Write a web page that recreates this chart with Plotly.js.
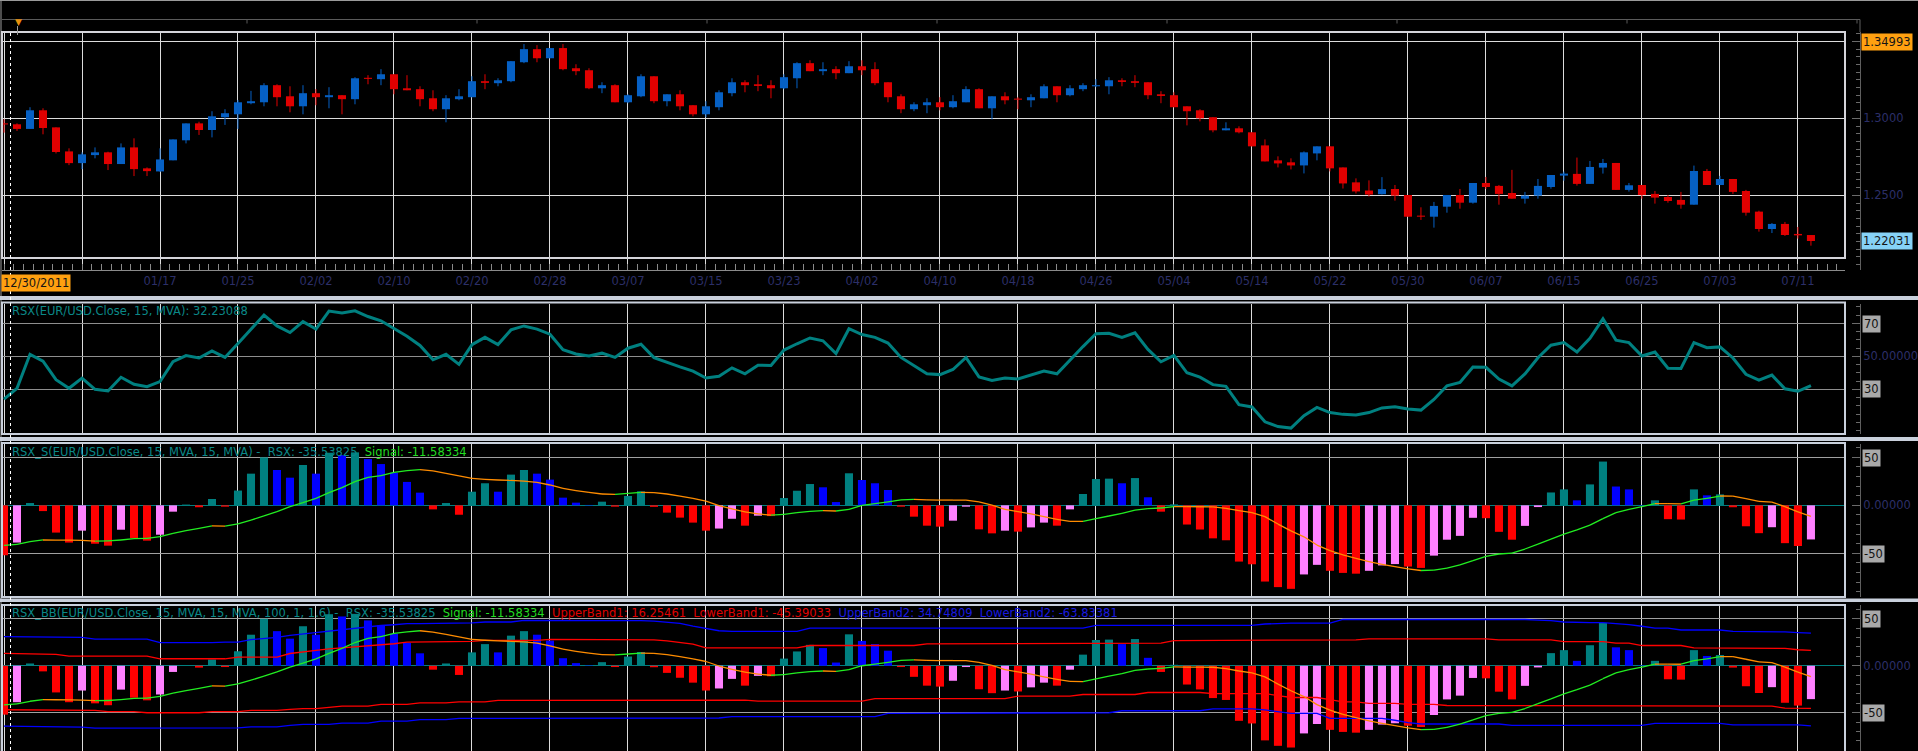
<!DOCTYPE html>
<html><head><meta charset="utf-8">
<script src="https://cdn.plot.ly/plotly-3.0.1.min.js"></script>
<style>html,body{margin:0;padding:0;background:#000;overflow:hidden}#chart{width:1918px;height:751px}</style>
</head><body><div id="chart"></div>
<script>
const W = 1918, H = 751;

// ---------- DATA (EUR/USD daily, 12/30/2011 .. 07/12/2012) ----------
const openP = [
1.2963,1.2961,1.2931,1.3052,1.2941,1.2785,1.2709,1.2761,1.2779,1.2703,
1.2811,1.2675,1.2655,1.2727,1.2857,1.2967,1.2924,1.3007,1.3026,1.3098,
1.3104,1.3215,1.3143,1.3078,1.3163,1.3137,1.3150,1.3124,1.3262,1.3254,
1.3286,1.3195,1.3189,1.3130,1.3059,1.3124,1.3137,1.3241,1.3228,1.3241,
1.3364,1.3449,1.3390,1.3456,1.3325,1.3312,1.3195,1.3215,1.3104,1.3143,
1.3273,1.3111,1.3156,1.3085,1.3026,1.3072,1.3163,1.3234,1.3221,1.3215,
1.3195,1.3260,1.3358,1.3306,1.3319,1.3293,1.3338,1.3319,1.3234,1.3143,
1.3059,1.3085,1.3104,1.3072,1.3104,1.3189,1.3065,1.3143,1.3126,1.3117,
1.3130,1.3208,1.3150,1.3189,1.3208,1.3208,1.3247,1.3241,1.3234,1.3156,
1.3150,1.3078,1.3052,1.3007,1.2922,1.2935,1.2909,1.2824,1.2727,1.2714,
1.2694,1.2772,1.2818,1.2681,1.2584,1.2531,1.2507,1.2541,1.2502,1.2366,
1.2361,1.2426,1.2502,1.2452,1.2580,1.2561,1.2515,1.2478,1.2498,1.2554,
1.2628,1.2639,1.2574,1.2680,1.2710,1.2535,1.2567,1.2509,1.2489,1.2470,
1.2439,1.2658,1.2567,1.2606,1.2528,1.2394,1.2281,1.2314,1.2249,1.2242];
const highP = [
1.2993,1.2967,1.3072,1.3065,1.2941,1.2805,1.2779,1.2811,1.2783,1.2837,
1.2870,1.2681,1.2805,1.2863,1.2967,1.2978,1.3046,1.3059,1.3119,1.3178,
1.3228,1.3221,1.3208,1.3215,1.3189,1.3202,1.3150,1.3267,1.3280,1.3319,
1.3286,1.3280,1.3208,1.3182,1.3150,1.3189,1.3273,1.3286,1.3260,1.3371,
1.3482,1.3475,1.3456,1.3482,1.3351,1.3325,1.3234,1.3221,1.3156,1.3286,
1.3273,1.3156,1.3182,1.3085,1.3111,1.3182,1.3260,1.3247,1.3280,1.3247,
1.3286,1.3364,1.3377,1.3364,1.3338,1.3371,1.3377,1.3364,1.3234,1.3156,
1.3104,1.3130,1.3137,1.3150,1.3208,1.3195,1.3143,1.3169,1.3137,1.3156,
1.3221,1.3208,1.3215,1.3228,1.3254,1.3267,1.3260,1.3280,1.3234,1.3176,
1.3169,1.3078,1.3059,1.3007,1.2974,1.2948,1.2909,1.2863,1.2753,1.2740,
1.2785,1.2818,1.2818,1.2681,1.2610,1.2597,1.2618,1.2567,1.2502,1.2422,
1.2457,1.2502,1.2541,1.2580,1.2619,1.2567,1.2665,1.2522,1.2606,1.2632,
1.2654,1.2745,1.2723,1.2736,1.2710,1.2580,1.2567,1.2528,1.2502,1.2522,
1.2693,1.2671,1.2626,1.2606,1.2535,1.2400,1.2320,1.2327,1.2294,1.2242];
const lowP = [
1.2907,1.2918,1.2931,1.2896,1.2772,1.2696,1.2670,1.2740,1.2664,1.2703,
1.2625,1.2625,1.2653,1.2727,1.2837,1.2892,1.2876,1.2957,1.2931,1.3091,
1.3078,1.3078,1.3039,1.3026,1.3085,1.3065,1.3026,1.3091,1.3221,1.3215,
1.3156,1.3182,1.3078,1.3046,1.2974,1.3117,1.3137,1.3189,1.3208,1.3234,
1.3358,1.3364,1.3390,1.3312,1.3280,1.3189,1.3163,1.3104,1.3098,1.3137,
1.3098,1.3078,1.3052,1.3013,1.3007,1.3052,1.3143,1.3169,1.3176,1.3130,
1.3189,1.3195,1.3306,1.3280,1.3254,1.3293,1.3280,1.3215,1.3104,1.3033,
1.3046,1.3033,1.3052,1.3065,1.3104,1.3065,1.2993,1.3091,1.3059,1.3072,
1.3130,1.3104,1.3143,1.3176,1.3202,1.3156,1.3208,1.3202,1.3124,1.3098,
1.3072,1.2954,1.2980,1.2909,1.2922,1.2902,1.2818,1.2720,1.2681,1.2668,
1.2642,1.2727,1.2655,1.2544,1.2512,1.2492,1.2505,1.2465,1.2361,1.2340,
1.2290,1.2387,1.2413,1.2446,1.2541,1.2439,1.2478,1.2446,1.2478,1.2543,
1.2595,1.2563,1.2574,1.2641,1.2535,1.2524,1.2478,1.2446,1.2452,1.2413,
1.2439,1.2567,1.2567,1.2509,1.2368,1.2264,1.2255,1.2236,1.2219,1.2173];
const closeP = [
1.2960,1.2931,1.3052,1.2937,1.2781,1.2709,1.2766,1.2779,1.2703,1.2811,
1.2670,1.2657,1.2733,1.2863,1.2967,1.2924,1.3013,1.3033,1.3104,1.3111,
1.3215,1.3137,1.3078,1.3163,1.3137,1.3150,1.3124,1.3260,1.3256,1.3286,
1.3189,1.3182,1.3124,1.3059,1.3130,1.3143,1.3241,1.3230,1.3247,1.3371,
1.3449,1.3390,1.3456,1.3319,1.3306,1.3195,1.3215,1.3104,1.3150,1.3273,
1.3111,1.3156,1.3078,1.3026,1.3078,1.3169,1.3234,1.3215,1.3210,1.3195,
1.3267,1.3358,1.3306,1.3319,1.3293,1.3338,1.3312,1.3228,1.3137,1.3059,
1.3091,1.3104,1.3072,1.3111,1.3189,1.3065,1.3143,1.3117,1.3121,1.3137,
1.3208,1.3150,1.3195,1.3215,1.3215,1.3247,1.3236,1.3230,1.3150,1.3145,
1.3072,1.3046,1.3000,1.2922,1.2935,1.2909,1.2818,1.2720,1.2707,1.2694,
1.2779,1.2818,1.2675,1.2577,1.2525,1.2505,1.2540,1.2498,1.2361,1.2361,
1.2431,1.2502,1.2452,1.2580,1.2554,1.2509,1.2478,1.2498,1.2561,1.2632,
1.2641,1.2574,1.2684,1.2710,1.2535,1.2565,1.2502,1.2485,1.2463,1.2439,
1.2658,1.2567,1.2606,1.2522,1.2387,1.2281,1.2314,1.2242,1.2240,1.2203];

const rsx = [
24.0,30.6,51.2,47.0,35.8,30.6,36.8,30.0,29.0,37.3,
33.0,31.6,34.7,46.7,50.4,49.0,53.3,49.3,57.7,66.5,
75.0,68.4,64.4,71.0,66.5,77.4,76.2,77.6,74.1,71.5,
67.0,62.2,56.6,47.9,51.2,45.1,57.1,61.5,57.1,66.0,
68.4,66.5,63.4,54.0,51.4,50.2,51.9,49.3,54.9,57.3,
49.2,46.2,43.6,41.0,36.8,37.9,43.0,39.4,44.6,44.4,
53.8,57.6,61.1,59.4,51.7,66.7,63.2,61.5,58.0,49.3,
44.1,39.4,38.9,42.0,49.3,37.5,35.4,36.8,36.3,38.5,
41.0,39.4,47.9,55.9,63.7,63.9,61.5,64.2,54.2,46.7,
50.5,40.0,37.4,32.8,31.8,20.7,19.3,10.3,7.4,6.5,
14.0,19.0,15.9,14.8,14.4,15.9,18.7,19.4,18.1,17.4,
23.8,32.1,34.1,43.5,43.3,36.2,32.1,39.3,49.1,56.7,
58.3,52.6,60.9,72.8,59.8,58.3,50.2,52.6,42.8,42.6,
58.3,55.2,55.7,49.0,39.1,35.5,38.6,30.3,28.8,32.23];

const rsxS = [
-52.0,-38.8,2.4,-6.0,-28.4,-38.8,-26.4,-40.0,-42.0,-25.4,
-34.0,-36.8,-30.6,-6.6,0.8,-2.0,6.6,-1.4,15.4,33.0,
50.0,36.8,28.8,42.0,33.0,54.8,52.4,55.2,48.2,43.0,
34.0,24.4,13.2,-4.2,2.4,-9.8,14.2,23.0,14.2,32.0,
36.8,33.0,26.8,8.0,2.8,0.4,3.8,-1.4,9.8,14.6,
-1.6,-7.6,-12.8,-18.0,-26.4,-24.2,-14.0,-21.2,-10.8,-11.2,
7.6,15.2,22.2,18.8,3.4,33.4,26.4,23.0,16.0,-1.4,
-11.8,-21.2,-22.2,-16.0,-1.4,-25.0,-29.2,-26.4,-27.4,-23.0,
-18.0,-21.2,-4.2,11.8,27.4,27.8,23.0,28.4,8.4,-6.6,
1.0,-20.0,-25.2,-34.4,-36.4,-58.6,-61.4,-79.4,-85.2,-87.0,
-72.0,-62.0,-68.2,-70.4,-71.2,-68.2,-62.6,-61.2,-63.8,-65.2,
-52.4,-35.8,-31.8,-13.0,-13.4,-27.6,-35.8,-21.4,-1.8,13.4,
16.6,5.2,21.8,45.6,19.6,16.6,0.4,5.2,-14.4,-14.8,
16.6,10.4,11.4,-2.0,-21.8,-29.0,-22.8,-39.4,-42.4,-35.54];

const signal = [
-41.7,-40.6,-37.8,-36.1,-36.2,-36.3,-36.6,-37.2,-37.0,-36.1,
-34.7,-34.4,-32.6,-29.2,-26.4,-24.0,-21.5,-21.7,-19.4,-15.3,
-11.1,-6.6,-1.4,2.8,7.3,13.2,18.4,24.7,29.2,30.9,
34.4,36.1,37.2,35.8,33.3,30.6,28.1,27.1,26.4,26.0,
25.3,24.0,21.2,17.7,15.3,13.5,11.8,11.5,12.5,13.5,
13.2,11.8,9.7,7.3,4.5,-0.3,-3.8,-6.9,-9.0,-10.1,
-9.4,-7.6,-6.3,-5.6,-5.9,-4.2,0.0,1.7,3.5,5.6,
6.3,5.6,5.5,5.5,5.4,3.5,0.3,-4.2,-6.6,-9.0,
-11.8,-14.6,-16.7,-16.8,-13.9,-11.1,-8.3,-4.9,-3.5,-2.8,
-1.3,-1.4,-1.5,-1.6,-3.1,-5.6,-7.6,-11.8,-19.5,-26.6,
-32.8,-41.4,-47.2,-51.7,-55.2,-58.6,-61.4,-63.8,-66.2,-67.9,
-67.6,-65.5,-62.1,-57.6,-53.1,-50.7,-49.7,-45.5,-40.3,-35.2,
-30.0,-25.5,-20.7,-13.8,-7.6,-4.1,-1.4,1.8,1.7,1.6,
5.5,7.2,9.7,9.6,6.9,4.1,3.4,-1.4,-6.9,-11.58];

const upperBand2 = [
30.9,30.8,30.7,30.6,30.5,30.3,30.1,28.4,28.4,28.4,
28.4,28.4,24.6,24.5,24.5,24.5,24.5,25.2,25.2,27.8,
28.6,30.2,32.3,33.8,35.1,36.4,37.8,40.0,41.4,42.8,
43.6,44.7,44.7,44.7,44.7,44.7,45.5,46.5,46.5,46.5,
48.2,48.2,48.2,48.2,48.2,48.2,48.2,48.2,48.2,47.9,
47.4,46.4,45.1,42.2,39.8,37.2,36.6,36.6,36.6,36.6,
36.6,36.6,40.1,40.1,40.1,40.1,40.1,40.1,40.1,40.1,
40.1,40.1,40.1,40.1,40.1,40.1,40.1,40.1,40.1,40.1,
40.1,40.1,40.1,40.1,43.0,43.0,43.0,43.0,43.0,43.0,
43.0,43.0,43.0,43.0,43.0,43.0,43.0,44.4,45.2,45.4,
45.4,45.4,45.4,49.2,49.2,49.2,49.2,49.2,49.2,49.9,
49.9,49.9,49.9,49.9,49.9,49.9,49.2,49.2,48.6,48.0,
46.5,46.0,45.8,45.8,45.0,43.7,42.0,40.1,40.1,38.0,
38.0,38.0,38.0,36.6,36.6,36.6,36.6,36.0,35.3,34.75];
const upperBand1 = [
13.1,12.9,12.6,12.3,12.1,10.3,10.3,10.3,10.3,10.3,
10.3,10.3,7.4,7.4,7.4,7.4,7.4,7.4,9.2,9.2,
9.2,9.2,13.0,15.0,16.3,18.0,19.1,20.2,20.9,22.0,
23.4,25.2,25.2,25.2,25.2,25.2,26.0,27.0,27.0,27.0,
27.0,27.0,28.0,28.0,28.0,28.0,28.0,28.0,28.0,27.5,
27.5,26.5,25.0,23.0,19.0,19.0,19.0,19.0,19.0,19.0,
19.0,19.0,21.5,21.5,21.5,21.5,21.5,21.5,21.5,21.5,
21.5,23.2,23.2,23.2,23.2,23.2,23.2,23.2,23.2,23.2,
23.2,23.2,23.2,23.2,23.2,24.0,24.0,24.0,24.0,24.0,
26.8,26.8,26.8,26.8,26.8,26.8,26.8,26.8,27.5,27.5,
27.5,27.5,27.5,27.5,27.5,28.5,28.5,28.5,28.5,28.5,
28.5,28.5,28.5,28.5,28.5,27.5,27.5,27.5,27.5,27.5,
25.7,25.7,25.7,25.7,24.0,24.0,21.5,21.5,21.5,21.5,
19.0,19.0,19.0,19.0,19.0,19.0,19.0,18.5,17.0,16.25];
const lowerBand1 = [
-46.8,-47.0,-47.2,-47.4,-47.5,-47.5,-47.5,-47.5,-48.9,-48.9,
-48.9,-50.0,-50.0,-50.0,-50.0,-50.0,-48.9,-48.9,-48.9,-47.5,
-47.5,-47.5,-46.5,-45.7,-45.7,-44.7,-42.9,-42.9,-42.9,-41.0,
-41.0,-41.0,-39.5,-39.5,-39.5,-38.5,-38.5,-38.5,-36.9,-36.9,
-36.9,-36.2,-36.2,-36.2,-36.2,-36.9,-36.9,-36.9,-36.9,-36.6,
-36.6,-36.6,-36.6,-36.6,-36.6,-36.6,-36.6,-36.6,-37.7,-37.7,
-37.7,-37.7,-37.7,-37.7,-37.7,-37.7,-37.7,-34.9,-34.9,-34.9,
-34.9,-34.9,-34.9,-34.9,-34.9,-34.9,-34.9,-34.9,-32.4,-32.4,
-32.4,-32.4,-32.4,-30.6,-30.6,-30.6,-30.6,-30.6,-28.5,-28.5,
-28.5,-28.5,-28.5,-29.6,-29.6,-29.6,-29.6,-29.6,-31.7,-33.8,
-33.8,-33.8,-36.0,-38.4,-38.4,-40.1,-40.1,-40.1,-41.2,-41.2,
-41.2,-42.3,-42.3,-42.3,-42.3,-43.0,-43.0,-43.0,-43.0,-43.0,
-43.0,-43.0,-43.0,-43.0,-43.0,-43.0,-43.0,-43.0,-43.0,-43.0,
-43.0,-43.0,-43.0,-43.0,-43.0,-43.0,-43.0,-45.1,-45.2,-45.39];
const lowerBand2 = [
-64.2,-64.4,-64.6,-64.8,-65.0,-65.2,-65.2,-66.3,-66.3,-66.3,
-66.3,-66.0,-66.0,-66.0,-66.0,-66.0,-66.0,-66.0,-66.0,-65.0,
-65.0,-65.0,-63.5,-62.4,-62.4,-62.4,-61.0,-61.0,-61.0,-58.9,
-58.9,-58.9,-57.4,-57.4,-57.4,-56.0,-56.0,-56.0,-56.0,-56.0,
-56.0,-56.0,-56.0,-56.0,-56.0,-56.0,-56.0,-56.0,-56.0,-55.6,
-55.6,-55.6,-55.6,-55.6,-55.6,-55.6,-54.2,-54.2,-54.2,-54.2,
-54.2,-54.2,-54.2,-54.2,-54.2,-54.2,-54.2,-54.2,-50.7,-50.7,
-50.7,-50.7,-50.7,-50.7,-50.7,-50.7,-50.7,-50.7,-50.0,-50.0,
-50.0,-50.0,-50.0,-50.0,-50.0,-50.0,-47.9,-47.9,-47.9,-47.9,
-47.9,-47.9,-47.9,-45.8,-45.8,-45.8,-45.8,-47.0,-49.0,-50.7,
-50.7,-50.7,-56.0,-56.0,-56.0,-56.0,-56.0,-58.0,-60.6,-62.0,
-62.0,-62.0,-62.0,-62.0,-62.0,-62.0,-63.4,-63.4,-63.4,-63.4,
-63.4,-63.4,-63.4,-63.4,-63.4,-63.4,-63.4,-61.3,-61.3,-61.3,
-61.3,-61.3,-61.3,-63.0,-63.0,-63.0,-63.0,-63.0,-63.0,-63.88];

const tickIdx = [0,6,12,18,24,30,36,42,48,54,60,66,72,78,84,90,96,102,108,114,120,126,132,138];
const tickLabels = ['','','01/17','01/25','02/02','02/10','02/20','02/28','03/07','03/15','03/23','04/02',
  '04/10','04/18','04/26','05/04','05/14','05/22','05/30','06/07','06/15','06/25','07/03','07/11'];
const firstDate = '12/30/2011';
const lastHigh = '1.34993', lastClose = '1.22031';
const rsxTitle = 'RSX(EUR/USD.Close, 15, MVA): 32.23088';
const rsxSTitle = 'RSX_S(EUR/USD.Close, 15, MVA, 15, MVA) -';
const bbTitle = 'RSX_BB(EUR/USD.Close, 15, MVA, 15, MVA, 100, 1, 1.6) -';
const lastVals = {rsx:'-35.53825', signal:'-11.58334', ub1:'16.25461', lb1:'-45.39033', ub2:'34.74809', lb2:'-63.83381'};

// ---------- STYLE ----------
const FONT = 'DejaVu Sans';
const NAVY = '#2c2f68';
const TEAL = '#008080', TEAL_T = '#0b8888';
const UP = '#0660c4', DN = '#e00000';
const GRID_W = '#dcdcdc', GRID_G = '#8e8e8e';
const FRAME = '#c9d0dc';
const px = x => x / W;
const py = y => 1 - y / H;

const n = closeP.length;
const idx = closeP.map((_, i) => i);

// candles
const bodyBase = [], bodyH = [], bodyCol = [];
const wUx = [], wUy = [], wDx = [], wDy = [];
for (let i = 0; i < n; i++) {
  const lo = Math.min(openP[i], closeP[i]), hi = Math.max(openP[i], closeP[i]);
  const up = closeP[i] > openP[i];
  bodyBase.push(lo); bodyH.push(Math.max(hi - lo, 0.0007)); bodyCol.push(up ? UP : DN);
  (up ? wUx : wDx).push(i, i, null);
  (up ? wUy : wDy).push(lowP[i], highP[i], null);
}
function histColors(v) {
  return v.map((val, i) => {
    const rising = i > 0 ? val > v[i - 1] : false;
    if (val >= 0) return rising ? '#008080' : '#0000ff';
    return rising ? '#ff80ff' : '#ff0000';
  });
}
function segs(arr, wantUp) {
  const xs = [], ys = [];
  for (let i = 0; i < arr.length - 1; i++) {
    const r = arr[i + 1] > arr[i];
    if (r === wantUp) { xs.push(i, i + 1, null); ys.push(arr[i], arr[i + 1], null); }
  }
  return {xs, ys};
}
const hc = histColors(rsxS);
const sg = segs(signal, true), so = segs(signal, false);

const traces = [
  {type:'bar', x:idx, y:bodyH, base:bodyBase, width:0.62, marker:{color:bodyCol, line:{width:0}}, xaxis:'x', yaxis:'y', hoverinfo:'skip'},
  {type:'scatter', mode:'lines', x:wUx, y:wUy, line:{color:UP, width:1}, xaxis:'x', yaxis:'y', hoverinfo:'skip'},
  {type:'scatter', mode:'lines', x:wDx, y:wDy, line:{color:DN, width:1}, xaxis:'x', yaxis:'y', hoverinfo:'skip'},
  {type:'scatter', mode:'lines', x:idx, y:rsx, line:{color:TEAL, width:3}, xaxis:'x', yaxis:'y2', hoverinfo:'skip'},
  {type:'bar', x:idx, y:rsxS, width:0.62, marker:{color:hc, line:{width:0}}, xaxis:'x', yaxis:'y3', hoverinfo:'skip'},
  {type:'scatter', mode:'lines', x:sg.xs, y:sg.ys, line:{color:'#22ee22', width:1.3}, xaxis:'x', yaxis:'y3', hoverinfo:'skip'},
  {type:'scatter', mode:'lines', x:so.xs, y:so.ys, line:{color:'#ff8c00', width:1.3}, xaxis:'x', yaxis:'y3', hoverinfo:'skip'},
  {type:'bar', x:idx, y:rsxS, width:0.62, marker:{color:hc, line:{width:0}}, xaxis:'x', yaxis:'y4', hoverinfo:'skip'},
  {type:'scatter', mode:'lines', x:idx, y:upperBand2, line:{color:'#0000ff', width:1.3}, xaxis:'x', yaxis:'y4', hoverinfo:'skip'},
  {type:'scatter', mode:'lines', x:idx, y:lowerBand2, line:{color:'#0000ff', width:1.3}, xaxis:'x', yaxis:'y4', hoverinfo:'skip'},
  {type:'scatter', mode:'lines', x:idx, y:upperBand1, line:{color:'#ff0000', width:1.3}, xaxis:'x', yaxis:'y4', hoverinfo:'skip'},
  {type:'scatter', mode:'lines', x:idx, y:lowerBand1, line:{color:'#ff0000', width:1.3}, xaxis:'x', yaxis:'y4', hoverinfo:'skip'},
  {type:'scatter', mode:'lines', x:sg.xs, y:sg.ys, line:{color:'#22ee22', width:1.3}, xaxis:'x', yaxis:'y4', hoverinfo:'skip'},
  {type:'scatter', mode:'lines', x:so.xs, y:so.ys, line:{color:'#ff8c00', width:1.3}, xaxis:'x', yaxis:'y4', hoverinfo:'skip'}
];

const AXPOS = 1860 / W;
function yAx(dom, range, vals, text, gridc, minorDt, extra) {
  return Object.assign({
    domain: dom, range: range, side:'right', anchor:'free', position:AXPOS,
    tickmode:'array', tickvals: vals, ticktext: text,
    showgrid:true, gridcolor:gridc, gridwidth:1, zeroline:false,
    showline:true, linecolor:'#5e5e5e', linewidth:1,
    ticks:'inside', ticklen:8, tickcolor:'#6a6a6a',
    minor:{dtick:minorDt, ticks:'inside', ticklen:4, tickcolor:'#6a6a6a', showgrid:false},
    tickfont:{family:FONT, size:11.5, color:NAVY}, fixedrange:true
  }, extra || {});
}

const layout = {
  width:W, height:H, autosize:false, margin:{l:0, r:0, t:0, b:0, pad:0},
  paper_bgcolor:'#000', plot_bgcolor:'#000', showlegend:false, barmode:'overlay',
  font:{family:FONT, size:11, color:NAVY},
  xaxis:{domain:[px(2), px(1845)], range:[-0.154, 141.62], anchor:'y',
    tickmode:'array', tickvals:tickIdx, ticktext:tickLabels,
    showgrid:true, gridcolor:GRID_W, gridwidth:1, zeroline:false,
    showline:true, linecolor:'#8a8a8a', linewidth:1,
    ticks:'inside', ticklen:6, tickcolor:'#8a8a8a',
    minor:{dtick:0.75, tick0:0, ticks:'inside', ticklen:6, tickcolor:'#8a8a8a', showgrid:false},
    tickfont:{family:FONT, size:11.5, color:NAVY}, fixedrange:true},
  yaxis: yAx([py(270), py(32)], [1.20149, 1.35604], [1.25, 1.30, 1.35], ['1.2500', '1.3000', ''], GRID_W, 0.005),
  yaxis2: yAx([py(434), py(304)], [2.9, 81.7], [30, 50, 70], ['', '50.00000', ''], GRID_G, 5),
  yaxis3: yAx([py(597), py(444)], [-95.5, 63.9], [-50, 0, 50], ['', '0.00000', ''], '#a0a0a0', 10,
     {zeroline:true, zerolinecolor:TEAL, zerolinewidth:1.5}),
  yaxis4: yAx([0, py(605)], [-90.7, 64.6], [-50, 0, 50], ['', '0.00000', ''], '#a0a0a0', 10,
     {zeroline:true, zerolinecolor:TEAL, zerolinewidth:1.5}),
  shapes: [], annotations: []
};

const S = layout.shapes, A = layout.annotations;
function line(x0, y0, x1, y1, color, width, dash) {
  S.push({type:'line', xref:'paper', yref:'paper', x0:px(x0), y0:py(y0), x1:px(x1), y1:py(y1),
    line:{color:color, width:width, dash:dash || 'solid'}, layer:'above'});
}
function rect(x0, y0, x1, y1, color, width, fill) {
  S.push({type:'rect', xref:'paper', yref:'paper', x0:px(x0), y0:py(y0), x1:px(x1), y1:py(y1),
    line:{color:color, width:width}, fillcolor:fill || 'rgba(0,0,0,0)', layer:'above'});
}
// frame / header strip
line(0, 0.5, W, 0.5, '#9a9a9a', 1);
line(1, 0, 1, H, '#9a9a9a', 1);
line(2, 19.5, 1860, 19.5, '#5a5a5a', 1);
for (let x = 247; x < 1860; x += 230) line(x, 19.5, x, 23.5, '#5a5a5a', 1);
line(1860, 19.5, 1860, 32, '#5e5e5e', 1);
// panel boxes and separators
rect(2, 32, 1845, 258, '#d4d4da', 2);
rect(0, 296, W, 300, FRAME, 0, FRAME);
rect(2, 302.5, 1845, 434, FRAME, 2);
rect(0, 437, W, 441, FRAME, 0, FRAME);
rect(2, 443, 1845, 597, FRAME, 2);
rect(0, 598.5, W, 602, FRAME, 0, FRAME);
rect(2, 605, 1845, 752, FRAME, 2);
// cursor
line(10.5, 33, 10.5, H, '#ffffff', 1, '3px,3px');
line(17.5, 26, 17.5, 35, '#9a9a9a', 1);

function ann(text, x, y, opts) {
  A.push(Object.assign({text:text, xref:'paper', yref:'paper', x:px(x), y:py(y),
    xanchor:'left', yanchor:'middle', showarrow:false, font:{family:FONT, size:11, color:NAVY}}, opts || {}));
}
ann('\u25BC', 12.5, 22.5, {font:{family:FONT, size:9, color:'#e8900c'}});
ann(firstDate, 1, 283.5, {bgcolor:'#ffa010', borderpad:1, font:{family:FONT, size:11.5, color:'#151515'}});
ann(lastHigh, 1861, 42, {bgcolor:'#ffa010', borderpad:1, font:{family:FONT, size:11.5, color:'#151515'}});
ann(lastClose, 1861, 240.5, {bgcolor:'#86d2f6', borderpad:1, font:{family:FONT, size:11.5, color:'#151515'}});
const grayBox = {bgcolor:'#a9a9a9', borderpad:1, font:{family:FONT, size:11.5, color:'#111'}};
ann('70', 1862, 323.5, grayBox);
ann('30', 1862, 389.5, grayBox);
ann('50', 1862, 457.5, grayBox);
ann('-50', 1862, 554, grayBox);
ann('50', 1862, 619, grayBox);
ann('-50', 1862, 713, grayBox);

const sp = '\u00a0';
const TF = {family:FONT, size:11.5, color:TEAL_T};
ann(rsxTitle, 10, 311, {font:TF});
ann('<span style="color:' + TEAL_T + '">' + rsxSTitle + sp + sp + 'RSX: ' + lastVals.rsx + sp + sp + '</span>' +
    '<span style="color:#22dd22">Signal: ' + lastVals.signal + '</span>', 10, 452, {font:TF});
ann('<span style="color:' + TEAL_T + '">' + bbTitle + sp + sp + 'RSX: ' + lastVals.rsx + sp + sp + '</span>' +
    '<span style="color:#22dd22">Signal: ' + lastVals.signal + sp + sp + '</span>' +
    '<span style="color:#e00000">UpperBand1: ' + lastVals.ub1 + sp + sp + 'LowerBand1: ' + lastVals.lb1 + sp + sp + '</span>' +
    '<span style="color:#1a1ae0">UpperBand2: ' + lastVals.ub2 + sp + sp + 'LowerBand2: ' + lastVals.lb2 + '</span>',
    10, 613, {font:TF});

Plotly.newPlot('chart', traces, layout, {staticPlot:true, displayModeBar:false});
</script>
</body></html>
